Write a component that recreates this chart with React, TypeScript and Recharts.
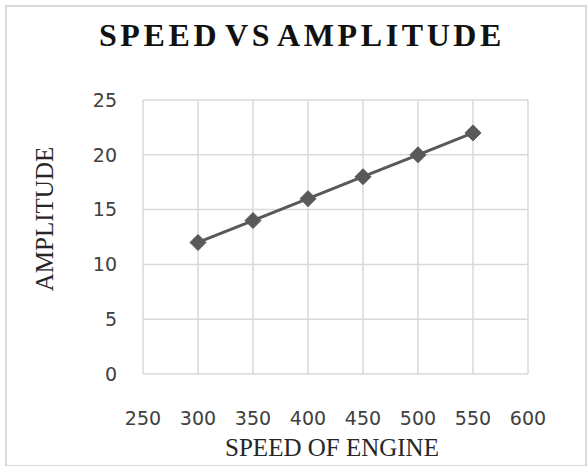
import React from 'react';
import { LineChart, Line, XAxis, YAxis, CartesianGrid, Label } from 'recharts';

const speeds = [300, 350, 400, 450, 500, 550];
const amplitudes = [12, 14, 16, 18, 20, 22];
const xTicks = [250, 300, 350, 400, 450, 500, 550, 600];
const yTicks = [0, 5, 10, 15, 20, 25];

const data = speeds.map((s, i) => ({ speed: s, amp: amplitudes[i] }));

const Diamond = (props: any) => {
  const { cx, cy } = props;
  if (cx == null || cy == null) return null;
  const r = 8;
  return (
    <path
      key={`d-${cx}`}
      d={`M${cx},${cy - r}L${cx + r},${cy}L${cx},${cy + r}L${cx - r},${cy}Z`}
      fill="#595959"
      stroke="#595959"
      strokeWidth={1}
    />
  );
};

export default function App() {
  return (
    <div style={{ position: 'absolute', left: 0, top: 0, width: 587, height: 466, background: '#fff' }}>
      <div
        style={{
          position: 'absolute',
          left: 5,
          top: 5,
          width: 578,
          height: 458,
          border: '2px solid #d9d9d9',
        }}
      />
      <div
        style={{
          position: 'absolute',
          left: 0,
          top: 17,
          width: 604,
          textAlign: 'center',
          fontFamily: '"Liberation Serif", serif',
          fontWeight: 'bold',
          fontSize: 32,
          letterSpacing: 3.6,
          wordSpacing: -6,
          color: '#111',
          lineHeight: '36px',
          whiteSpace: 'nowrap',
        }}
      >
        SPEED VS AMPLITUDE
      </div>
      <div style={{ position: 'absolute', left: 0, top: 0 }}>
        <LineChart width={587} height={466} data={data} margin={{ top: 100, right: 59, left: 83, bottom: 32 }}>
          <CartesianGrid stroke="#d9d9d9" strokeWidth={1.5} vertical horizontal />
          <XAxis
            dataKey="speed"
            type="number"
            domain={[250, 600]}
            ticks={xTicks}
            axisLine={false}
            tickLine={false}
            tickSize={0}
            tickMargin={38}
            height={60}
            interval={0}
            tick={{ fill: '#404040', fontSize: 19, fontFamily: '"DejaVu Sans", sans-serif' }}
          >
            <Label
              content={() => (
                <text
                  x={332}
                  y={456}
                  textAnchor="middle"
                  fill="#262626"
                  fontSize={25}
                  fontFamily='"Liberation Serif", serif'
                >
                  SPEED OF ENGINE
                </text>
              )}
            />
          </XAxis>
          <YAxis
            type="number"
            domain={[0, 25]}
            ticks={yTicks}
            axisLine={false}
            tickLine={false}
            tickSize={0}
            tickMargin={26}
            width={60}
            interval={0}
            tick={{ fill: '#404040', fontSize: 19, fontFamily: '"DejaVu Sans", sans-serif' }}
          >
            <Label
              content={() => (
                <text
                  transform="translate(53, 219) rotate(-90)"
                  textAnchor="middle"
                  fill="#262626"
                  fontSize={25}
                  fontFamily='"Liberation Serif", serif'
                >
                  AMPLITUDE
                </text>
              )}
            />
          </YAxis>
          <Line
            dataKey="amp"
            stroke="#595959"
            strokeWidth={3}
            dot={<Diamond />}
            activeDot={false}
            isAnimationActive={false}
          />
        </LineChart>
      </div>
    </div>
  );
}
